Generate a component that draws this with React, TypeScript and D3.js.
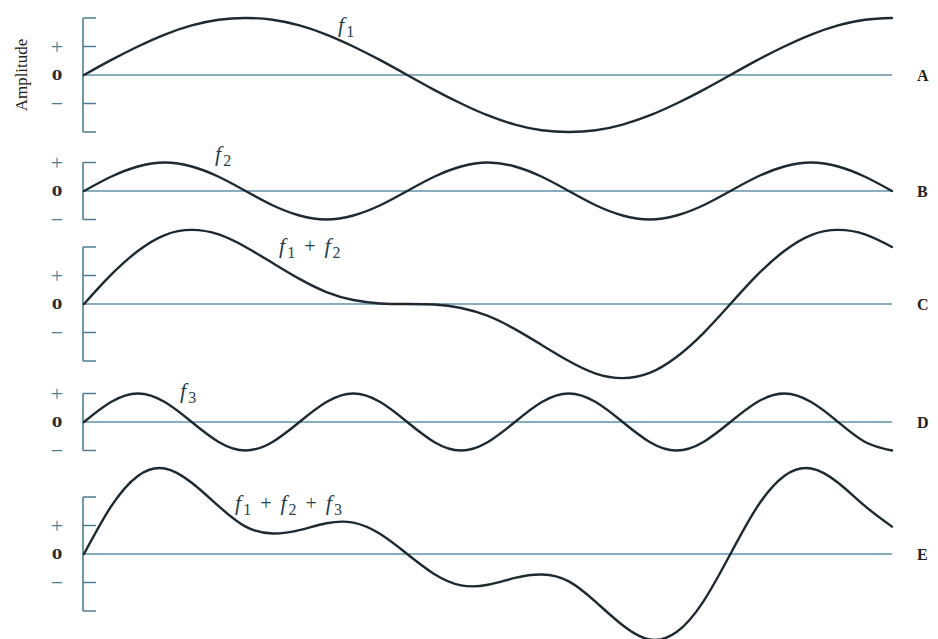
import React from 'react';
import * as d3 from 'd3';

// Phase of the fundamental, in degrees, at each sample
const phaseDeg = [0, 15, 30, 45, 60, 75, 90, 105, 120, 135, 150, 165, 180, 195, 210, 225, 240, 255, 270, 285, 300, 315, 330, 345, 360, 375, 390, 405, 420, 435, 450];

// A: fundamental f1
const waveA = [0, 0.26, 0.5, 0.71, 0.87, 0.97, 1, 0.97, 0.87, 0.71, 0.5, 0.26, 0, -0.26, -0.5, -0.71, -0.87, -0.97, -1, -0.97, -0.87, -0.71, -0.5, -0.26, 0, 0.26, 0.5, 0.71, 0.87, 0.97, 1];
// B: second harmonic f2
const waveB = [0, 0.25, 0.43, 0.5, 0.43, 0.25, 0, -0.25, -0.43, -0.5, -0.43, -0.25, 0, 0.25, 0.43, 0.5, 0.43, 0.25, 0, -0.25, -0.43, -0.5, -0.43, -0.25, 0, 0.25, 0.43, 0.5, 0.43, 0.25, 0];
// C: f1 + f2
const waveC = [0, 0.51, 0.93, 1.21, 1.3, 1.22, 1, 0.72, 0.44, 0.21, 0.07, 0.01, 0, -0.01, -0.07, -0.21, -0.44, -0.72, -1, -1.22, -1.3, -1.21, -0.93, -0.51, 0, 0.51, 0.93, 1.21, 1.3, 1.22, 1];
// D: third harmonic f3
const waveD = [0, 0.35, 0.5, 0.35, 0, -0.35, -0.5, -0.35, 0, 0.35, 0.5, 0.35, 0, -0.35, -0.5, -0.35, 0, 0.35, 0.5, 0.35, 0, -0.35, -0.5, -0.35, 0, 0.35, 0.5, 0.35, 0, -0.35, -0.5];
// E: f1 + f2 + f3
const waveE = [0, 0.83, 1.37, 1.5, 1.25, 0.84, 0.48, 0.36, 0.42, 0.54, 0.55, 0.35, 0, -0.35, -0.55, -0.54, -0.42, -0.36, -0.48, -0.84, -1.25, -1.5, -1.37, -0.83, 0, 0.83, 1.37, 1.5, 1.25, 0.84, 0.48];

const panelLetters = ['A', 'B', 'C', 'D', 'E'];
// Half-height of each panel's bracket, in amplitude units
const bracketSpans = [1, 0.5, 1, 0.5, 1];
// Harmonic indices named in each curve's label
const labelTerms = [[1], [2], [1, 2], [3], [1, 2, 3]];
const tickLabels = ['+', '0', '\u2212'];

const SERIF = '"Liberation Serif", "DejaVu Serif", serif';
const AXIS = '#4d7f93';
const ZERO = '#5f93a8';
const CURVE = '#1d2a31';
const LABEL = '#263f4b';

function WaveLabel({ x, y, terms }: { x: number; y: number; terms: number[] }) {
  return (
    <text x={x} y={y} fontFamily={SERIF} fill={LABEL}>
      {terms.map((t, i) => (
        <React.Fragment key={i}>
          {i > 0 && (
            <tspan dy={-5} dx={9} fontSize={20}>
              +
            </tspan>
          )}
          <tspan fontStyle="italic" fontSize={22} dx={i > 0 ? 9 : 0}>
            f
          </tspan>
          <tspan fontSize={16} dy={5} dx={2}>
            {t}
          </tspan>
        </React.Fragment>
      ))}
    </text>
  );
}

export default function App() {
  const W = 938;
  const H = 639;
  const unit = 57;
  const zeros = [75, 191, 304, 422, 554];
  const labelPos = [
    [338, 32],
    [215, 161],
    [279, 253],
    [180, 398],
    [235, 510],
  ];
  const series = [waveA, waveB, waveC, waveD, waveE];

  const x = d3.scaleLinear().domain([0, 450]).range([84, 892]);
  const axisX = 83;
  const tickLen = 13;

  return (
    <svg
      width={W}
      height={H}
      viewBox={`0 0 ${W} ${H}`}
      style={{ position: 'absolute', left: 0, top: 0, background: '#fff' }}
    >
      <rect width={W} height={H} fill="#fff" />
      {series.map((vals, p) => {
        const z = zeros[p];
        const y = d3.scaleLinear().domain([-1, 1]).range([z + unit, z - unit]);
        const span = bracketSpans[p];
        const pts: [number, number][] = phaseDeg.map((d, i) => [x(d), y(vals[i])]);
        const line = d3.line().curve(d3.curveNatural)(pts) || '';
        const tickVals = span === 1 ? [1, 0.5, -0.5, -1] : [0.5, -0.5];
        const labelVals = [0.5, 0, -0.5];
        return (
          <g key={p}>
            {/* bracket axis */}
            <line x1={axisX} x2={axisX} y1={y(span)} y2={y(-span)} stroke={AXIS} strokeWidth={1.6} />
            {tickVals.map((v) => (
              <line key={v} x1={axisX} x2={axisX + tickLen} y1={y(v)} y2={y(v)} stroke={AXIS} strokeWidth={1.5} />
            ))}
            {/* zero line */}
            <line x1={axisX} x2={x(450)} y1={y(0)} y2={y(0)} stroke={ZERO} strokeWidth={1.4} />
            {/* tick labels */}
            {tickLabels.map((t, i) => {
              const ty = y(labelVals[i]);
              if (t === '0') {
                return (
                  <text
                    key={t}
                    transform={`translate(57,${ty + 4.5}) scale(1.25,0.8)`}
                    textAnchor="middle"
                    fontFamily={SERIF}
                    fontWeight="bold"
                    fontSize={17}
                    fill="#2b2b2b"
                  >
                    {t}
                  </text>
                );
              }
              return (
                <text
                  key={t}
                  x={57}
                  y={ty + 7}
                  textAnchor="middle"
                  fontFamily={SERIF}
                  fontSize={22}
                  fill={AXIS}
                >
                  {t}
                </text>
              );
            })}
            {/* waveform */}
            <path d={line} fill="none" stroke={CURVE} strokeWidth={2.4} strokeLinecap="round" />
            <WaveLabel x={labelPos[p][0]} y={labelPos[p][1]} terms={labelTerms[p]} />
            {/* panel letter */}
            <text x={917} y={z + 6} fontFamily={SERIF} fontWeight="bold" fontSize={16} fill="#222">
              {panelLetters[p]}
            </text>
          </g>
        );
      })}
      <text
        transform="translate(27,75) rotate(-90)"
        textAnchor="middle"
        fontFamily={SERIF}
        fontSize={17}
        fill="#222"
      >
        Amplitude
      </text>
    </svg>
  );
}
